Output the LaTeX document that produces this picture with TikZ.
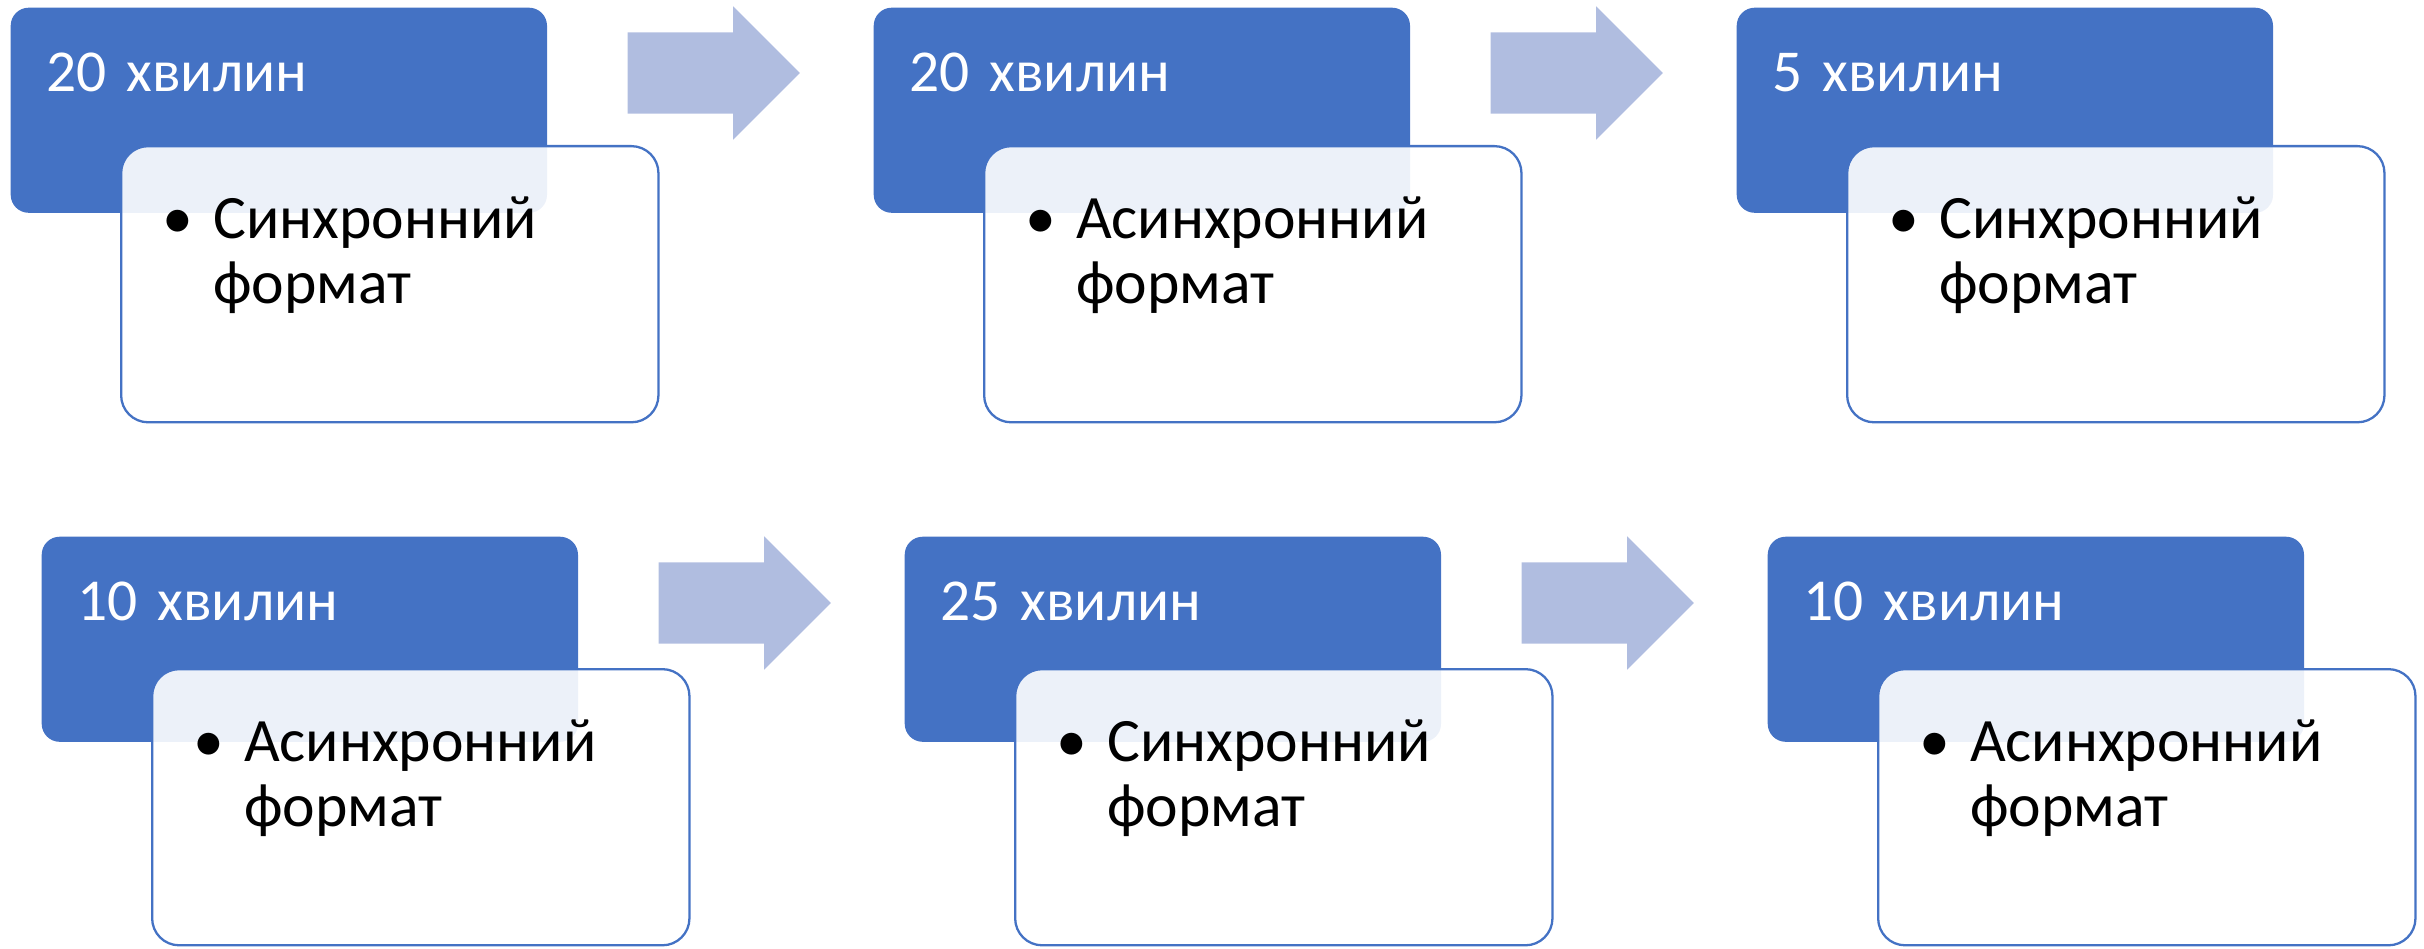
\documentclass[tikz,border=0pt]{standalone}
\usepackage{fontspec}
\setmainfont{Carlito}
\usetikzlibrary{shapes.arrows}
\definecolor{boxblue}{HTML}{4472C4}
\definecolor{arrowblue}{RGB}{176,189,224}
\tikzset {
    style A/.style={
        fill=boxblue,
        text=white,
        font=\fontsize{16.9}{18.5}\selectfont,
        rectangle, % time box
        rounded corners=0.18cm,
        anchor=north west,
        inner xsep=0.36cm,
        inner ysep=0pt,
        text width=4.64cm,
        text height=0.84cm,
        text depth=1.21cm,
    },
    style B/.style={
        fill=white,
        fill opacity=0.9,
        text opacity=1,
        draw=boxblue,
        line width=0.65pt,
        rectangle, % format box
        rounded corners=0.27cm,
        anchor=north west,
        inner xsep=0.22cm,
        inner ysep=0pt,
        text width=4.93cm,
        text height=0.92cm,
        text depth=1.84cm,
    },
    style C/.style={
        single arrow,
        fill=arrowblue,
        anchor=west,
        inner xsep=0pt,
        inner ysep=0.4cm,
        minimum height=1.72cm,
        single arrow head extend=0.26cm,
    },
}
\newcommand{\pnt}[2]{\makebox[0.7cm]{•}#1\\\hspace*{0.7cm}#2}

\begin{document}
\begin{tikzpicture}[x=0.01cm, y=-0.01cm, font=\fontsize{17.55}{18.5}\selectfont]
    \useasboundingbox (0,0) rectangle (2424,949);

    % first row
    \node[style A] (t1) at (10,7) {20 хвилин};
    \node[style A] (t2) at (873,7) {20 хвилин};
    \node[style A] (t3) at (1736,7) {5 хвилин};
    \node[style B] (f1) at (120,145) {\pnt{Синхронний}{формат}};
    \node[style B] (f2) at (983,145) {\pnt{Асинхронний}{формат}};
    \node[style B] (f3) at (1846,145) {\pnt{Синхронний}{формат}};
    \node[style C] (a1) at (627,73) {};
    \node[style C] (a2) at (1490,73) {};

    % second row
    \node[style A] (t4) at (41,536) {10 хвилин};
    \node[style A] (t5) at (904,536) {25 хвилин};
    \node[style A] (t6) at (1767,536) {10 хвилин};
    \node[style B] (f4) at (151,668) {\pnt{Асинхронний}{формат}};
    \node[style B] (f5) at (1014,668) {\pnt{Синхронний}{формат}};
    \node[style B] (f6) at (1877,668) {\pnt{Асинхронний}{формат}};
    \node[style C] (a3) at (658,603) {};
    \node[style C] (a4) at (1521,603) {};

\end{tikzpicture}
\end{document}
